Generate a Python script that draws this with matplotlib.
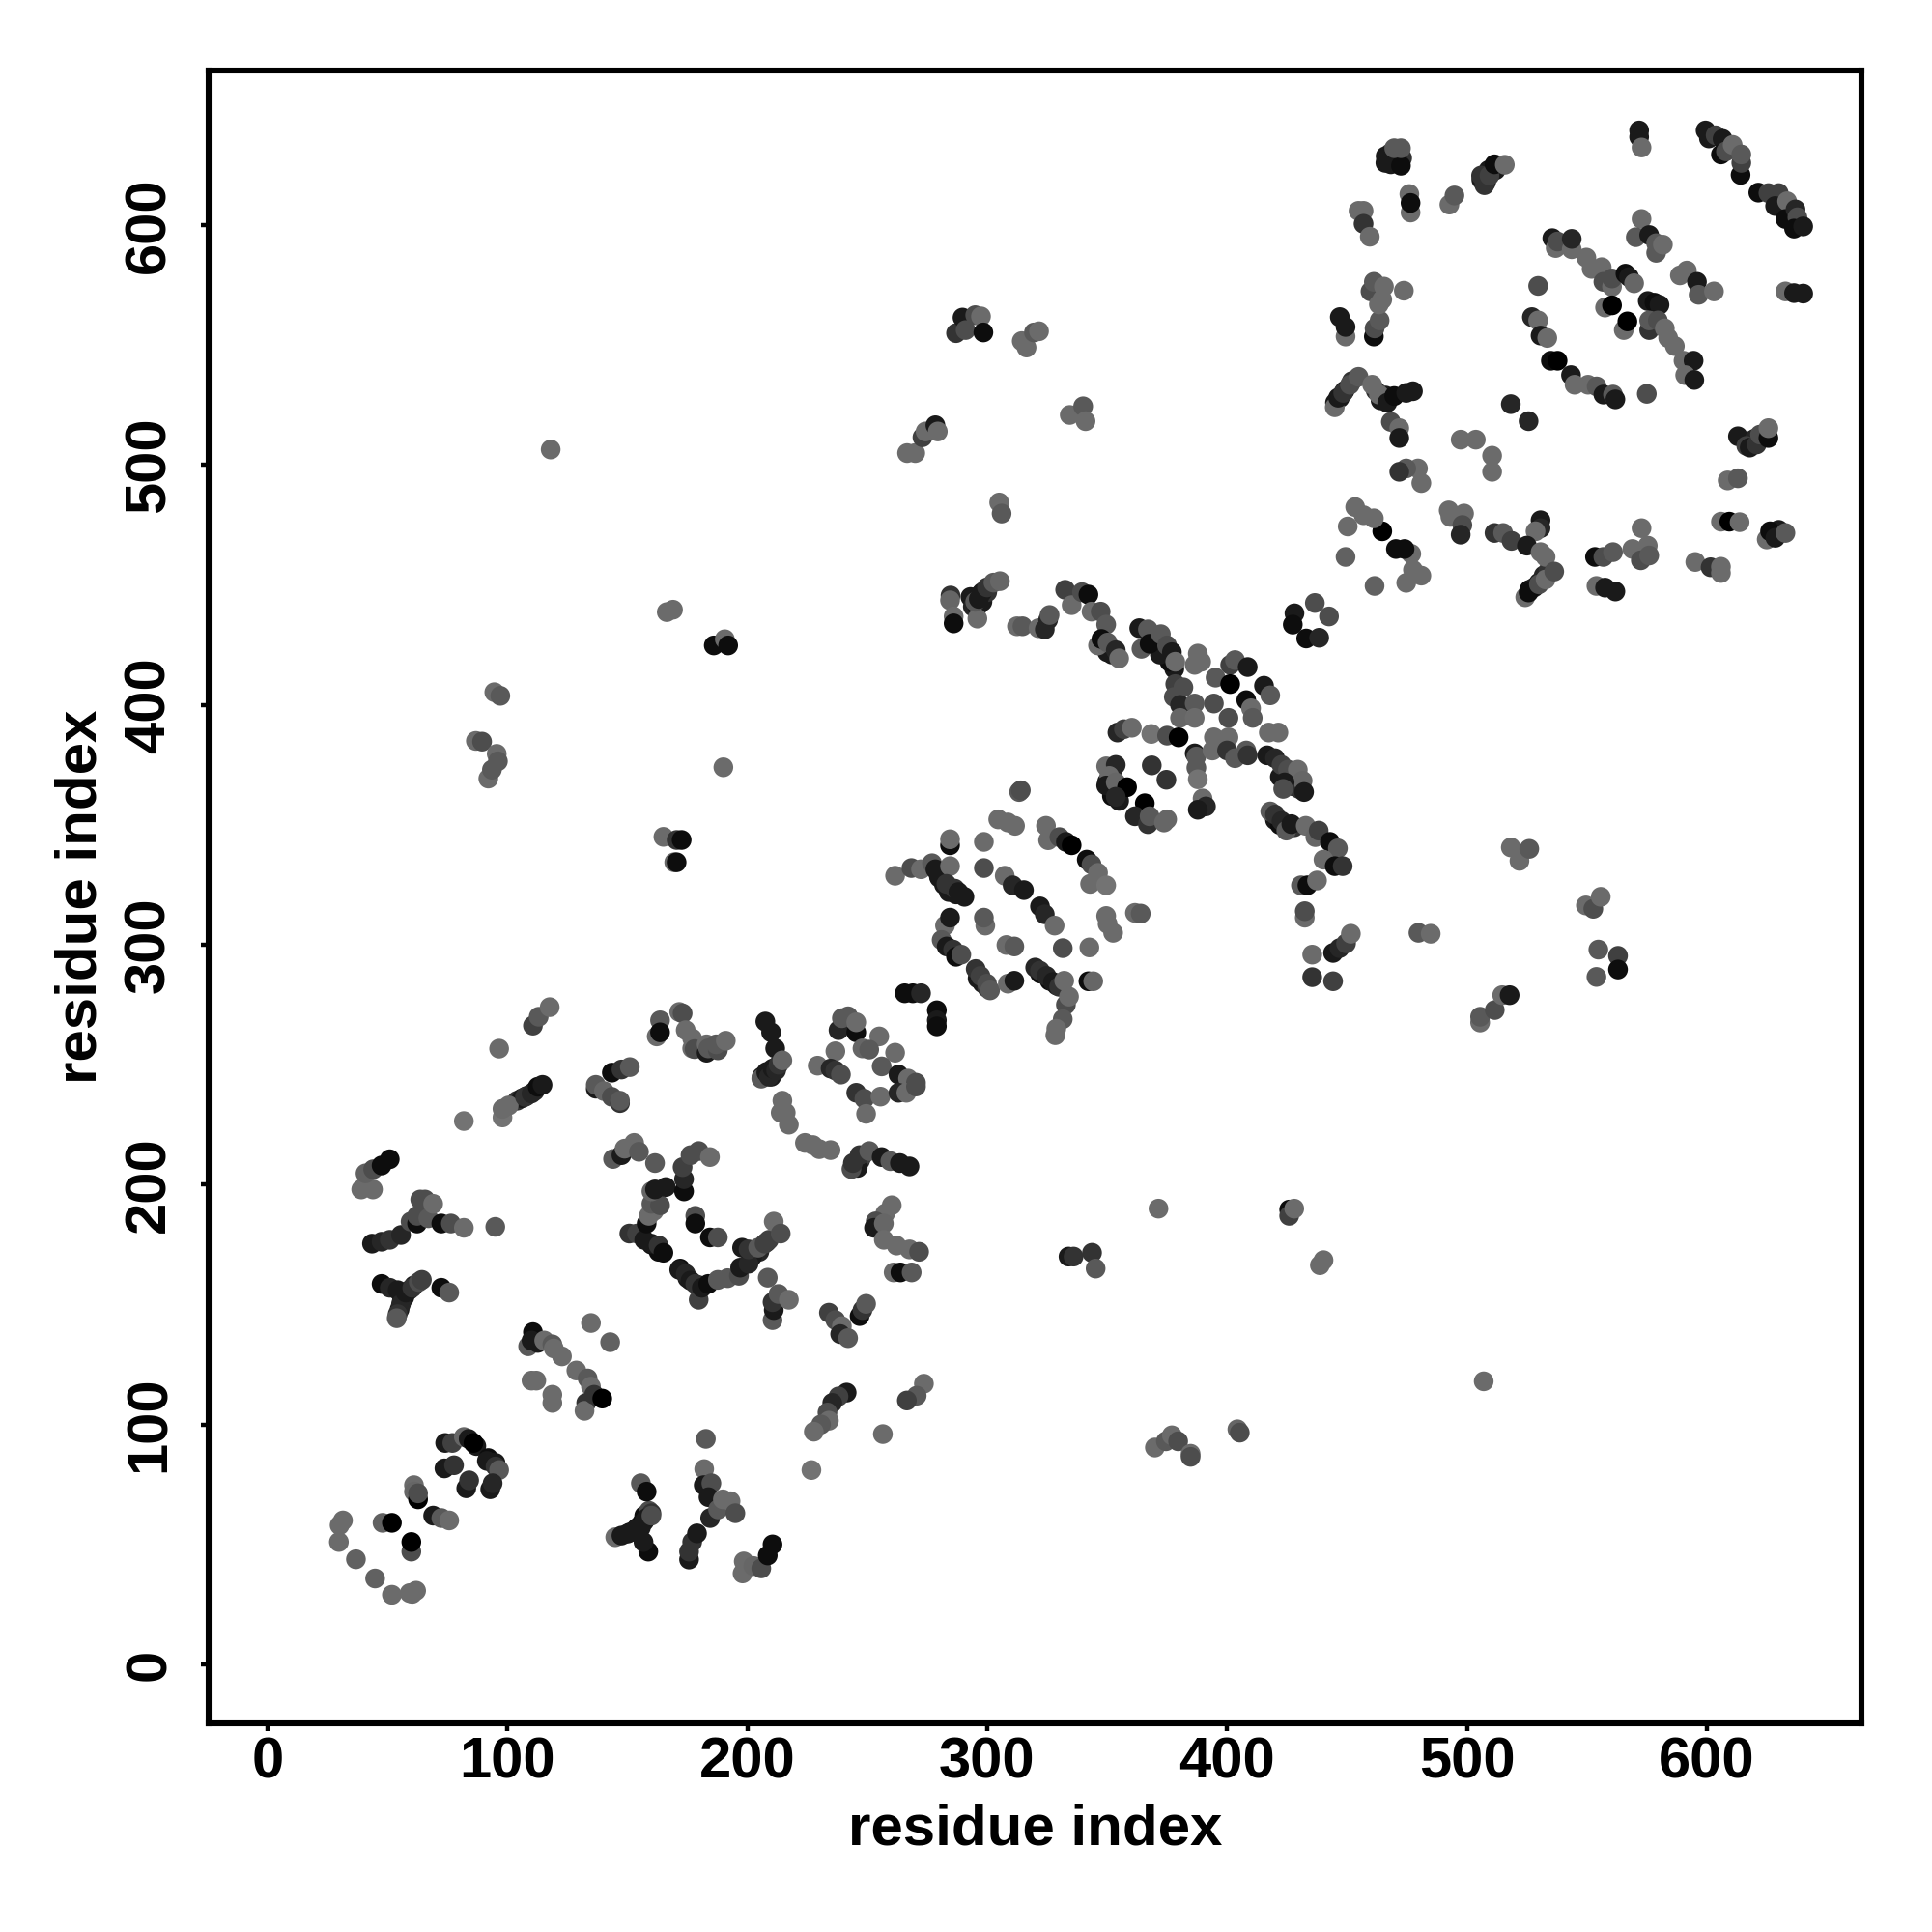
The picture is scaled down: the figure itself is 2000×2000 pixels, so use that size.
import numpy as np
import matplotlib
matplotlib.use('Agg')
import matplotlib.pyplot as plt

plt.rcParams['font.family'] = ['Liberation Sans', 'DejaVu Sans']

# (residue x, residue y, grey level), region by region
dense_runs = [(104,235,.2),(106,236,.1),(108,237,.1),(151,55,.05),(154,57,.05),(156,59,.05),(157,62,.05),(159,64,.3),(160,63,.2),(55,148,.1),(56,152,.1),(57,153,.1),(59,156,.1),(61,158,.1),
    (87,91,.1),(92,86,.05),(95,84,.1),(378,415,.1),(376,418,.05),(372,421,.1),(370,427,.1),(368,428,.2),(350,422,.1),(352,421,.1),(526,448,.05),(528,449,.1),(530,451,.1),(532,454,.15),(534,456,.2),
    (447,528,.1),(449,531,.1),(445,526,.1),(452,535,.2),(464,527,.1),(466,529,.1),(462,531,.2),(613,512,.1),(618,510,.1),(620,511,.15),(627,470,.1),(630,473,.1),(506,619,.1),(508,618,.1),(509,623,.1),(512,623,.1),
    (466,626,.1),(470,627,.1),(471,628,.2),(473,628,.2),(468,630,.2),(180,158,.1),(172,165,.05),(175,161,.1),(208,176,.15),(205,172,.15),(202,170,.1),(160,175,.05),(163,172,.05),(355,360,.1),(352,362,.05),(350,368,.1),(352,372,.15),
    (420,352,.1),(422,350,.05),(425,349,.1),(428,349,.2),(422,370,.1),(425,368,.05),(428,366,.1),(430,365,.2),(245,208,.1),(247,210,.15),(248,212,.25),(246,207,.1),(210,245,.1),(208,247,.1),(206,245,.1),(212,249,.2),
    (297,446,.1),(293,445,.1),(294,441,.15),(296,441,.05),(298,443,.1),(300,447,.2),(284,322,.1),(287,321,.1),(282,325,.1),(280,328,.1),(296,286,.1),(298,284,.1),(300,282,.2),(322,288,.05),(326,285,.05),(329,283,.1)]
low_corner = [(31.4,60,.42),(30,58,.42),(29.7,51,.42),(36.8,43.8,.38),(44.8,35.8,.38),(51.8,29,.42),(59.2,29.7,.42),(61.9,30.7,.42),(60.3,29.4,.42),
    (47.9,59,.38),(51.8,59,0),(59.9,47,.3),(59.9,51,0),(61,74.7,.42),(61,72,.4),(62.7,68.8,0),(62.7,71.3,.3),(69,62,.1),(72.4,61,.35),(75.7,60,.42),
    (74,92.3,.1),(77,92.3,.25),(81.8,94.8,.4),(83.8,94,.1),(85.8,92.3,0),(73.7,81.7,.1),(77.7,83,.2),(82.8,73.4,.1),(84,76.7,.2),
    (91.4,84.8,.1),(93.8,84,.1),(95,82.5,.2),(96.5,81,.35),(92.8,73,.1),(93.8,75.5,.15)]
low_mid = [(144.9,53,.42),(147.5,53.7,.1),(150,54.5,.1),(153,56,.1),(155.6,57,.1),(157,59.6,.1),(158,61,.1),(160,62,.3),(155.6,75.5,.35),(158,72,.05),(158.7,47,.05),(156.7,51,.1),
    (175.7,43.7,.1),(175.7,47,.2),(177,51,.2),(179,54.6,.1),(182,81.4,.42),(181.8,74.7,.1),(185,75.5,.3),(183.8,69.7,.1),(184.5,61,.15),(187.8,64.6,.35),(189.8,68.8,.42),(193,68,.42),(195,63,.3),(182.7,94,.35),
    (198.5,42.9,.42),(198,37.9,.42),(202.5,41,.4),(205.8,40,.3),(208.5,45.4,.05),(210.5,50,.05)]
left_arms = [(39,198,.42),(40.8,199.7,.42),(43.9,198,.42),(40.8,204.7,.38),(44,206.4,.3),(47.5,208,.05),(50.9,210.6,.05),
    (43.5,175.4,.1),(47.5,176.2,.15),(50.9,177,.2),(55.6,179,.15),(59.6,184.6,.3),(62.3,183.8,.05),(62.3,187,.3),(63.6,193.8,.3),(65.6,193.8,.3),(67,186,.35),(69,192,.42),(72.4,183.8,.05),(76.4,183.8,.3),(81.8,182,.42),(94.9,182.4,.35),
    (47.5,158.6,.05),(50.9,157,.15),(54.2,156,.1),(55.6,154.4,.1),(55.6,150.2,.15),(54.2,146,.2),(53.8,144.3,.35),(57.6,155,.1),(60.3,157,.2),(63,159.4,.3),(64.3,160.3,.25),(72.4,157,.05),(75.7,155,.35),
    (110.6,138.5,.05),(108.6,132.6,.35),(110,135,.1),(112.6,134,.1),(115.3,135,.42),(118.7,133.4,.35),(119.3,131.7,.42),(122.7,128.4,.42),(128.7,122.5,.42),(133.4,119.2,.35),(134.8,115.8,.42),(132.8,109,.2),(132.1,105.7,.42),(136.1,112.4,.2),(139.5,110.8,0),(134.8,142.3,.42),(142.8,134.3,.38),(110,118.3,.42),(112,118.3,.42),(118.7,112.4,.42),(118.7,109,.42)]
upper_left_arc = [(96.5,256.7,.42),(81.8,226.5,.45),(97.9,228,.45),(97.9,231.6,.42),(100.5,233,.42),(107.3,236.6,.2),(110,238,.15),(111.3,239,.15),(112.6,240.8,.05),(114.6,241.6,.1),
    (110.6,266.3,.25),(113,270,.35),(117.6,274,.42),(143.5,246.7,.05),(147.5,248,.2),(151,249,.35),(136.8,240,.1),(136.8,241.6,.35),(140.2,239,.4),(143.5,236.6,.3),(146.9,234,.2),(146.9,235,.35),
    (163.6,268.5,.35),(162.2,261.8,.42),(163.6,263.5,.05),(171.6,272,.42),(173,271.4,.3),(174.3,264.4,.42),(177,261,.42),(177,256.8,.42),(178,256.5,.3),(183,255,.1),(183,258.5,.42),(183.7,256.8,.35),(187.7,256,.3),(187,258.5,.35),(191,260,.42),
    (207.5,268,.1),(209.9,263.5,.1),(211.6,256.8,.1),(205.8,244.2,.35),(207.9,246.7,.1),(209,245,.15),(210.5,248.4,.1),(212,247.6,.15),(213,250,.2),(214.6,251.8,.4),
    (265.6,279.8,.05),(269,279.8,.05),(272.4,279.8,.15),(279,272.7,.05),(279,268.5,.1),(279,266,.05)]
loop_250 = [(238,264.4,.15),(239.4,269.4,.35),(242,270.2,.35),(245.4,263.5,.05),(245.4,267.7,.42),(255,261.8,.42),(248,256.8,.4),(250.8,256.3,.35),(236.7,255.6,.42),(261.6,255,.42),(256,249.3,.35),
    (229.3,249.6,.42),(234.7,248.4,.15),(236.7,247.6,.2),(239,245.9,.3),(245.4,238.3,.2),(248.8,235.8,.3),(249.5,229.5,.42),(255.5,236.7,.42),
    (263,245.9,.1),(267,244.2,.42),(270.3,242.5,.3),(263,238.3,.15),(266.3,238.3,.42),(270.3,240.9,.3),
    (214.6,235,.42),(213.9,230,.42),(216,230,.42),(217.3,225,.42),(224,217.4,.42),(227.3,216.5,.42),(230,214.8,.42),(234.7,214.4,.42),
    (243.4,206.5,.3),(244,209,.2),(246.8,212.3,.2),(250.8,214,.35),(256,211.5,.1),(259.6,209.8,.35),(263.6,209,.1),(267.6,207.6,.1),
    (260.2,191.4,.42),(257.5,188,.42),(253.5,184.7,.3),(252.8,182,.1),(256.9,183.8,.4),(256.9,177,.42),(262.2,174.6,.42),(267.6,173,.42),(271.6,172,.3),
    (261,163.4,.42),(263.8,163.4,.05),(268.5,163.4,.35),(246.8,145.2,.05),(248,147.7,.2),(249.5,150.3,.35),(234,146.6,.25),(236.7,143.5,.3),(239.4,141,.42),(238.7,137.7,.15),(242,136,.35),
    (273.6,117,.42),(270.6,112,.35),(266.5,110,.25),(241.4,113.3,.1),(238,111.7,.25),(235.4,109,.15),(233.4,105,.3),(234,101.6,.42),(230.7,100,.35),(227.7,97,.42),(256.5,96,.42),(226.7,81,.45)]
centre_c = [(150.8,179.6,.2),(154,179.6,.25),(157,177,.1),(160,175.4,.1),(163,174.6,.2),(165,171.6,.05),(171.6,164.5,.1),(174.3,162.8,.15),(176.3,160,.1),(178.3,158.6,.2),(179.7,152,.25),(181,157,.1),(183.7,158.6,.05),
    (187.7,160.3,.35),(191.8,161,.35),(196.5,162,.3),(197,165.4,.1),(200.5,167,.15),(197.8,173.7,.1),(200.5,173,.2),(204.5,173.7,.35),(207.2,175.4,.25),(209,177,.25),(211,184.6,.42),(213.9,179.6,.3),
    (208.5,161.2,.35),(210.5,143.5,.35),(211,147.7,.1),(210.5,151,.2),(213,154.4,.35),(217.3,152,.42),(178.3,187,.3),(178.3,183.8,.05),(184.4,178,.05),(187.7,178,.3),
    (158,183.8,.05),(158.9,187,.42),(161,189,.42),(160,192,.35),(163.6,191.4,.3),(160,197.2,.4),(161.5,198,.1),(166,199,.1),(173.6,197.2,.05),(173.6,202.3,.15),(173,207.3,.25),(176.3,212.3,.3),(179.7,214,.3),(184.4,211.5,.42),
    (161.5,209,.35),(144,210.7,.35),(147.5,212.3,.1),(148.8,215,.42),(152.8,217.4,.42),(154.8,213.7,.35)]
mid_band = [(261.6,328.8,.42),(268.4,332,.3),(272.4,331.5,.42),(277,334,.35),(278.4,331.5,.1),(279.8,328.8,.1),(284.5,332.8,.42),(284.5,341.5,.05),(284.5,344,.42),(283,325.4,.2),(286.5,323.4,.2),(288,322,.1),(290.5,320,.1),
    (298.6,342.9,.42),(298.6,332,.3),(304.6,352.3,.42),(308.6,351,.42),(311.6,349.6,.42),(313.3,363.7,.35),(314,364.4,.3),(307.3,328.8,.42),(310.6,324.8,.15),(315.3,322.8,.1),
    (324.5,349.6,.42),(325.4,343.6,.42),(330.1,344.9,.3),(332.8,342.9,.1),(335.2,341.5,0),(341.5,335.5,.05),(343.5,333.5,.3),(346.2,330,.42),(342.9,325.4,.42),(349.6,324.8,.45),
    (322,316,.1),(324,312.7,.15),(328.1,308,.42),(349.6,312,.42),(350.2,308.7,.42),(352.5,305,.42),(361.6,313.3,.42),(364,313,.35),
    (282.4,308,.42),(284.5,311.3,.1),(299.2,308,.42),(298.6,311.3,.35),(308,299.9,.42),(311.3,299.3,.35),(331.5,298.6,.3),(342.6,298.9,.42),
    (281,302,.35),(283.1,299.3,.1),(285.8,298,.2),(287,295,.05),(289.2,295.9,.3),(295.2,289.9,.2),(297.2,287,.25),(299.9,283.8,.3),(301.2,281,.35),(308.6,283.8,.42),(311.3,285,.1),
    (320,290.5,.15),(322,289.2,.2),(324.7,287,.15),(327.4,284.5,.1),(330,282.5,.2),(332.1,285,.42),(332.8,275,.3),(334.1,278.4,.42),(331.5,269,.35),(328.8,265,.42),(328.4,262.3,.42),(342.2,284.8,.05),(344.2,284.8,.4)]
band_400 = [(284.7,445.6,.2),(284.5,443.6,.4),(286,436.9,.42),(286,434,.05),(295.9,436,.42),(295,443,.35),(296.5,444.2,.1),(297.9,447,.1),(299.9,449,.2),(302.6,451,.35),(305.3,451.6,.4),
    (312.4,432.8,.42),(314.7,432.8,.35),(321.4,432,.42),(324,431.5,.15),(325.4,435.5,.15),(326,437.5,.35),
    (332.5,448,.25),(335.2,441.6,.42),(339.5,447,.3),(342.2,446,.05),(343.5,438.9,.42),(347.3,438.9,.3),(349.6,433.5,.35),(346.2,424.8,.42),(347.6,427.5,.05),(350.2,426,.35),(353.6,422.8,.15),(355,419.4,.42),
    (363.4,432,.1),(367,431.5,.35),(364.3,423.4,.35),(367.7,425.5,.05),(372.4,429.5,.35),(375,424.8,.3),(377,422,.1),(378.4,418,.42),(387.8,421.4,.42),(386.5,416.7,.42),(389.2,418,.42),
    (401.3,416.7,.25),(403.3,418.7,.35),(408.6,415.8,.1),(395.2,411.4,.35),(401.3,408.7,0),(415.4,408,.1),(418,404,.35),(408,402,.05),(410,398.6,.42),(410.7,394.6,.35),(394.5,400.6,.3),(400.6,394.6,.3),
    (378.4,408.7,.25),(381.8,407.3,.3),(377.8,403.3,.3),(380.4,400,.15),(386.5,400.6,.35),(380.4,394.6,.4),(386.5,394.6,.42),
    (354.3,388.5,.15),(357,389.9,.25),(360.3,390.5,.42),(368.4,387.9,.45),(375,387.2,.3),(379.8,386.5,0),(386.5,379.8,.1),(387.2,378.5,.35),(387.2,373.8,.35),(387.8,369,.45),
    (394.5,386.5,.42),(400.6,386.5,.42),(393.9,381,.42),(400,381,.2),(403.3,377.8,.35),(408,381,.35),(408.6,379,.2),(417.4,388.5,.42),(421.4,388.5,.42),
    (416.7,379,.1),(420,377.8,.15),(422.7,375,.25),(425.4,373,.3),(429.5,373,.42),(431.5,368.4,.4),(424,367.7,.1),(423.4,365,.3),(432.1,363.7,.1),
    (349.6,374.4,.42),(353.6,375,.15),(350.9,370.4,.42),(349.6,366.4,.1),(353.6,367.7,.4),(358.3,365.7,0),(353.6,361.7,.15),(368.6,374.8,.2),(374.7,368.8,.2),
    (365.7,359,0),(361.6,353.6,.15),(367,350.3,.2),(367.7,353.6,.35),(373.7,351,.4),(375,352.3,.4),(389.8,361,.42),(391.2,357.7,.15),(387.8,356.3,.1),
    (418,355.6,.35),(420,354.3,.2),(422.7,351.6,.15),(424.7,347.6,.35),(426.8,350.3,.1),(432.8,349.6,.42),(436.8,344.9,.4),(438.2,347.6,.25),(442.9,342.9,.05),(446.2,340.2,.35),(440.2,335.5,.42),(444.9,332.8,.05),(448.2,332.8,.2),
    (430.8,324.8,.35),(433.5,324.8,.05),(437.5,326.8,.42),(432.4,311.3,.42),(432.4,314,.3),(435.5,295.9,.42),(435.5,286.5,.2),(444.2,284.8,.25),(444.2,296.6,.1),(446.9,298.6,.15),(449.6,300.6,.25),(451.6,304.6,.42),
    (428.1,438.2,.1),(427.4,433.5,.05),(436.6,442.5,.3),(442.5,436.9,.3),(433,427.7,.05),(438.4,428,.15)]
lower_right = [(479.8,305,.35),(484.9,304.6,.42),(518.3,340.6,.42),(521.9,335,.42),(526,340,.35),(549.6,316.4,.42),(552.7,315,.3),(555.8,320,.42),(554.8,298,.35),(563,295.4,.25),(554,286.6,.35),(563,289.7,.05),
    (505.5,267.6,.42),(505.5,270,.35),(511.6,272.8,.3),(514.7,279,.42),(517.8,279,.1),(371.4,190,.42),(333.9,170,.1),(336,170,.2),(343.7,171.6,.2),(345.2,165,.35),(425.9,189.6,.05),(425.9,187,.25),(428,190,.42),
    (440.2,168.5,.42),(438.7,166.4,.42),(507,118,.42),(369.9,90.4,.42),(374.5,93,.35),(377,95.5,.42),(379.6,93,.3),(384.8,87.8,.42),(384.8,86.5,.3),(404.3,98,.4),(405.3,96.6,.3)]
upper_left = [(118,506.5,.42),(94.5,405.3,.42),(97,403.8,.35),(86.8,385,.42),(89.4,384.7,.3),(92,369.3,.42),(93.5,373,.35),(95.5,379.6,.42),(96,376.5,.35),(166.4,438.7,.42),(169,439.7,.42),(186,424.8,.05),(190.6,427.4,.42),(192,424.8,.05),(190,374,.42),
    (165,345,.42),(170.5,343.7,.2),(172.6,343.7,.05),(169.5,334.4,.4),(170.5,334.4,.05),(266.6,505,.42),(270,505,.42),(273,511.6,.25),(274.3,514,.42),(278.4,516.6,.1),(279.4,514,.42),
    (287,555,.2),(289.7,561.5,.1),(291,556.3,.3),(295,562.5,.3),(297.4,562,.42),(298.4,555.3,.05),(314.4,551.7,.42),(316.4,549,.42),(319.5,555.3,.35),(321.6,555.8,.42),(334.4,520.9,.42),(340,524.5,.35),(341,518.3,.42),(305,484.4,.42),(306,479.8,.35)]
top_right = [(571.8,639.5,.1),(571.8,636.8,.1),(572.8,632.4,.42),(599.5,639.5,.1),(600.9,636.2,.1),(603.7,637.5,.25),(606.6,636,.1),(605.9,629.5,.05),(608,630.8,.3),(610.8,633.5,.42),(614.1,621,.05),(614.4,626,.25),(614.4,629.5,.35),
    (621.5,613.6,.05),(625.7,613.4,.25),(630,613.4,.25),(628.5,608,.1),(633.5,610,.42),(632.8,602.6,.05),(637,606.6,.15),(637.8,603.3,.3),(636.4,598.6,.05),(640.2,599.5,.1),
    (572.8,602.6,.42),(570.4,595,.35),(576,595.9,.1),(578.9,588.5,.35),(578.9,592.5,.35),(581.7,591.9,.42),(588.8,579.1,.42),(591.7,581.1,.42),(595.9,576.4,.1),(596.6,571,.35),(603,572.4,.42),(632.8,572.4,.42),(636.4,571.7,.1),(640.2,571.5,.1),
    (535.6,594.6,.1),(537,590.5,.42),(537.8,593.2,.3),(543.7,590,.42),(543.7,594.3,.15),(549.8,586.5,.42),(552,581.8,.42),(556.2,582.5,.42),(556.9,576.4,.3),(560.5,574.4,.42),(560.5,577.8,.3),(566.1,579.8,.05),(567.6,578.4,.1),(569.7,575.8,.4),
    (557.6,565.7,.42),(560.5,566.6,0),(565.4,556.3,.42),(566.9,559.9,0),(575.4,568.4,.1),(578.2,567.7,.05),(580.3,566.8,.1),(576,556.3,.2),(576,560.3,.35),(579.6,560.3,.3),(582.5,557,.42),(583.9,553,.42),(586.7,549.6,.42),(590.3,543.5,.42),(594.5,543.5,.1),(591,537.5,.42),(594.8,535.5,.1),
    (529.7,574.7,.3),(527.1,561.7,.15),(529.7,560.3,.42),(530.7,554,.1),(533.5,553,.42),(535,543.5,.05),(537.8,543.5,0),(543.4,537.5,.1),(544.9,533.5,.42),(550.5,533.5,.42),(554.1,532.8,.35),(556.9,529.4,.1),(560.9,529.4,.35),(561.9,527.4,.1),(575,529.7,.3),(518.3,525.4,.15),(525.7,518.3,.15)]
right_block = [(497.4,510.6,.42),(503.7,510.6,.42),(510.5,503.9,.42),(510.5,497.2,.42),(616.5,508,.25),(617.9,507.3,.1),(620.8,508.6,.2),(622.2,512.7,.3),(625.7,511.3,.05),(625.7,515.4,.42),(608.7,493.6,.42),(613,494.5,.35),(605.9,476.4,.42),(609.4,476.4,0),(613.7,476.2,.42),
    (625,469,.42),(626.4,472.4,.05),(628.6,469.7,.1),(632.8,471.7,.35),(595.2,459.6,.42),(601.6,457.4,.2),(605.9,455,.42),(605.9,457.6,.42),(572.8,473.7,.42),(569,465,.42),(575.4,466.4,.42),(572.5,460.3,.3),(576,462.3,.35),
    (553.4,461.7,.05),(556.9,461.7,.3),(560.9,463.7,.35),(554,449.6,.42),(557.6,448.9,.1),(561.9,447.3,.1),(530.7,477,.1),(530.7,473.7,.15),(528.6,472.4,.42),(511.5,471.7,.2),(515.1,471.7,.35),(518.6,468.4,.25),(525,466.4,.1),(530.7,463.7,.42),(532.8,461.7,.42),
    (524.3,444.9,.42),(525.7,446.9,.05),(530,450.3,.3),(532.8,452.3,.42),(536.4,455.6,.3),(461.5,449.6,.38),(449.4,461.7,.38),(474.7,450.9,.42),(481,453.9,.42),(476.8,463,.42),(477.5,456.3,.42),(470.4,465,.05),(474,465,.05),(464.7,472.4,0),(461.2,477.8,.42),(456.9,479.1,.42),(453.4,482.5,.42),(450.3,474.4,.42),
    (492.4,481.1,.42),(493.1,478.4,.42),(498.8,479.8,.42),(498.1,475,.3),(497.4,471,.15),(481,492.5,.42),(479.6,498.6,.42),(474.7,498.6,.35),(471.8,497.2,.2)]
top_left_block = [(447,561.7,.1),(449.4,553.6,.42),(449.4,557.6,.1),(461.2,553.6,.05),(461.5,557,.3),(463.6,560.3,.35),(459.8,572.4,.3),(461.2,576.4,.35),(463.3,567,.42),(464.7,569,.42),(465.4,574.4,.42),(473.7,572.7,.42),
    (454.8,606,.42),(456.9,606,.42),(456.9,600.6,.2),(459.5,595.2,.42),(476,613,.42),(476.5,605.3,.42),(476.5,609.3,.05),(466.1,628.8,.1),(468.3,625.4,.1),(472.5,624.8,.05),(469.7,632.1,.35),(472.5,632.1,.35),
    (492.7,608.6,.42),(494.8,612.4,.35),(507.3,616.7,.2),(505.9,620.7,.2),(509.4,620.7,.25),(511.5,625.4,.05),(515.8,625.2,.42),
    (444.9,524.1,.42),(446.3,528.1,.1),(448.4,530.1,.2),(451.2,533.5,.3),(454.8,536.8,.35),(460.5,533.5,.42),(463.3,529.4,.42),(466.8,526,.1),(469.7,528.8,.05),(474.7,530.1,.1),(477.5,530.8,.1),(468.3,518,.3),(471.8,515.4,.42),(471.8,511.3,.1)]

tick_vals = [0, 100, 200, 300, 400, 500, 600]

regions = [dense_runs, low_corner, low_mid, left_arms, upper_left_arc, loop_250, centre_c, mid_band, band_400, lower_right, upper_left, top_right, right_block, top_left_block]
pts = np.array([p for r in regions for p in r])

fig = plt.figure(figsize=(10, 10), dpi=200)
ax = fig.add_axes([216/2000, 1-1784/2000, (1927-216)/2000, (1784-73)/2000])

ax.scatter(pts[:,0], pts[:,1], s=54, c=[str(g) for g in pts[:,2]], linewidths=0, zorder=2)

ax.set_xlim(-24.6, 664.5)
ax.set_ylim(-24.6, 664.5)
ax.set_xticks(tick_vals)
ax.set_yticks(tick_vals)
ax.tick_params(axis='x', length=3, width=1.6, labelsize=21.5, pad=2)
ax.tick_params(axis='y', length=3, width=1.6, labelsize=21.5, pad=9)
for lab in ax.get_xticklabels():
    lab.set_fontweight('bold')
for lab in ax.get_yticklabels():
    lab.set_fontweight('bold')
    lab.set_rotation(90)
    lab.set_va('center')
for s in ax.spines.values():
    s.set_linewidth(2.2)

ax.set_xlabel('residue index', fontsize=21.6, fontweight='bold', labelpad=5)
ax.set_ylabel('residue index', fontsize=21.6, fontweight='bold', labelpad=6)

fig.savefig('out.png', dpi=200)
